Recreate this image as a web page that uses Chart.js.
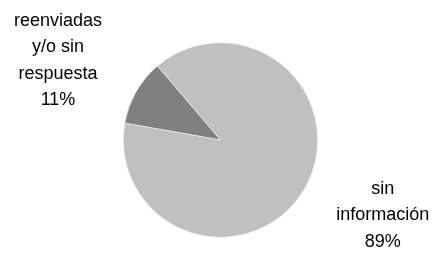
<!DOCTYPE html>
<html>
<head>
<meta charset="utf-8">
<script src="https://cdn.jsdelivr.net/npm/chart.js@4.4.1/dist/chart.umd.min.js"></script>
<style>
  html, body { margin: 0; padding: 0; background: #ffffff; }
</style>
</head>
<body>
<canvas id="pie_chart" width="434" height="254"></canvas>
<script>
// data
var CATEGORIES = ["reenviadas y/o sin respuesta", "sin información"];
var LABEL_LINES = [["reenviadas", "y/o sin", "respuesta"], ["sin", "información"]];
var VALUES = [11, 89];
var SLICE_COLORS = ["#808080", "#c0c0c0"];

// draws the outside labels (name + percent) next to each slice
var outsideLabels = {
  id: "outsideLabels",
  afterDatasetsDraw: function(chart, args, opts) {
    var ctx = chart.ctx;
    var meta = chart.getDatasetMeta(0);
    var total = VALUES.reduce(function(a, b) { return a + b; }, 0);
    ctx.save();
    ctx.font = opts.size + "px 'Liberation Sans', Arial, sans-serif";
    ctx.fillStyle = "#000000";
    ctx.textAlign = "center";
    ctx.textBaseline = "middle";
    meta.data.forEach(function(arc, i) {
      var mid = (arc.startAngle + arc.endAngle) / 2 + opts.angleShift[i];
      var d = arc.outerRadius * opts.dist[i];
      var lines = LABEL_LINES[i].concat([Math.round(VALUES[i] / total * 100) + "%"]);
      var cx = arc.x + Math.cos(mid) * d;
      var cy = arc.y + Math.sin(mid) * d;
      var top = cy - (lines.length - 1) * opts.lineHeight / 2;
      lines.forEach(function(line, j) {
        ctx.fillText(line, cx, top + j * opts.lineHeight);
      });
    });
    ctx.restore();
  }
};

const ctx = document.getElementById("pie_chart");
new Chart(ctx, {
  type: "pie",
  data: {
    labels: CATEGORIES,
    datasets: [{
      data: VALUES,
      backgroundColor: SLICE_COLORS,
      borderColor: "#ffffff",
      borderWidth: 0.5
    }]
  },
  options: {
    responsive: false,
    animation: false,
    rotation: -80,
    layout: { padding: { left: 123, right: 116, top: 42, bottom: 16 } },
    plugins: {
      legend: { display: false },
      tooltip: { enabled: false },
      outsideLabels: { size: 18, lineHeight: 26.5, dist: [1.86, 1.84], angleShift: [-0.065, -0.085] }
    }
  },
  plugins: [outsideLabels]
});
</script>
</body>
</html>
